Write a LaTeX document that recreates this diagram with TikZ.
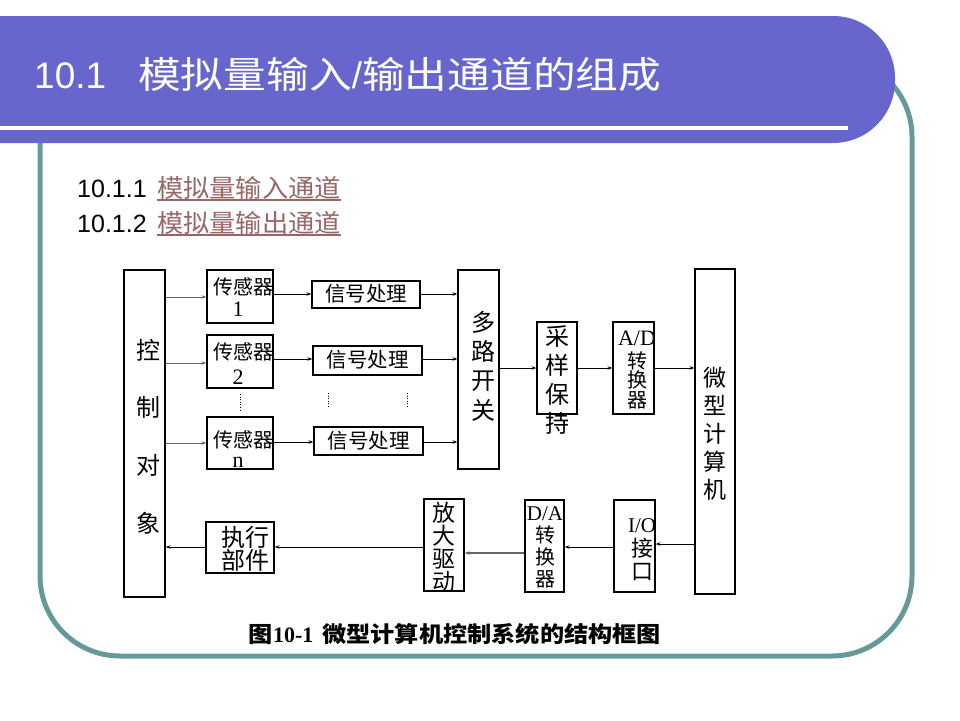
\documentclass[tikz,border=0pt]{standalone}
\usepackage{fontspec}
\usepackage{graphicx}
\usetikzlibrary{arrows.meta}
\setmainfont{Liberation Serif}
\newfontfamily\cjk{Noto Sans CJK SC}
\newfontfamily\lsans{Liberation Sans}
\newfontfamily\lserif{Liberation Serif}
\definecolor{bandc}{RGB}{102,102,204}
\definecolor{framec}{RGB}{102,153,153}
\definecolor{linkc}{RGB}{153,102,102}
\newcommand{\fs}[1]{\fontsize{#1}{#1}\selectfont}
\begin{document}
\begin{tikzpicture}[x=1pt,y=-1pt,
  box/.style={draw=black,line width=1.2pt,inner sep=0pt},
  lbl/.style={inner sep=0pt,align=center},
  vt/.style 2 args={lbl,font={\cjk\fontsize{#1}{#2}\selectfont}},
  arr/.style={line width=0.9pt,-{Stealth[length=5pt,width=3.5pt]}},
  garr/.style={arr,draw=black!60,line width=1pt},
  dots/.style={line width=1pt,dash pattern=on 1pt off 1.6pt}]
\useasboundingbox (0,0) rectangle (960,720);
\fill[white] (0,0) rectangle (960,720);
% frame
\draw[framec,line width=5pt,rounded corners=80pt] (40,57) rectangle (912,656);
% header band
\fill[bandc,rounded corners=62pt] (-120,16) rectangle (895,143);
\fill[white] (-10,126) rectangle (848,130);
\node[lbl,anchor=base west,text=white] (title) at (34,88)
  {\fs{37}\lsans 10.1\hspace{32pt}\scalebox{1.155}[1]{\cjk 模拟量输入}/\scalebox{1.155}[1]{\cjk 输出通道的组成}};
% sub headings
\node[lbl,anchor=base west] (sub1n) at (77,197) {\fs{25}\lsans 10.1.1};
\node[lbl,anchor=base west,text=linkc] (sub1c) at (157,197) {\fs{25}\scalebox{1.05}[1]{\cjk 模拟量输入通道}};
\node[lbl,anchor=base west] (sub2n) at (77,232) {\fs{25}\lsans 10.1.2};
\node[lbl,anchor=base west,text=linkc] (sub2c) at (157,232) {\fs{25}\scalebox{1.05}[1]{\cjk 模拟量输出通道}};
\draw[linkc,line width=1.2pt] ([yshift=-3pt]sub1c.base west) -- ([yshift=-3pt]sub1c.base east);
\draw[linkc,line width=1.2pt] ([yshift=-3pt]sub2c.base west) -- ([yshift=-3pt]sub2c.base east);
% boxes
\node[box,minimum width=41pt,minimum height=327pt] (ctrl) at (144.5,433.5) {};
\node[box,minimum width=66pt,minimum height=53pt] (s1) at (240,296.5) {};
\node[box,minimum width=66pt,minimum height=53pt] (s2) at (240,361.5) {};
\node[box,minimum width=66pt,minimum height=52pt] (sn) at (240,443) {};
\node[box,minimum width=108pt,minimum height=27pt] (p1) at (366,294.5) {};
\node[box,minimum width=109pt,minimum height=29pt] (p2) at (367.5,360.5) {};
\node[box,minimum width=109pt,minimum height=28pt] (p3) at (368.5,441) {};
\node[box,minimum width=41pt,minimum height=199pt] (mux) at (478.5,369.5) {};
\node[box,minimum width=40pt,minimum height=92pt] (sh) at (557,368) {};
\node[box,minimum width=41pt,minimum height=92pt] (ad) at (633.5,368) {};
\node[box,minimum width=40pt,minimum height=325pt] (mc) at (715,431.5) {};
\node[box,minimum width=68pt,minimum height=51pt] (act) at (240,547.5) {};
\node[box,minimum width=40pt,minimum height=92pt] (amp) at (444,545) {};
\node[box,minimum width=39pt,minimum height=92pt] (da) at (544.5,546) {};
\node[box,minimum width=41pt,minimum height=92pt] (io) at (634.5,546) {};
% labels
\node[vt={24}{57.7}] (tctrl) at (148,436.5) {控\\制\\对\\象};
\node[lbl] (ts1) at (243,287) {\fs{20}\cjk 传感器};
\node[lbl] (ts1b) at (238,309) {\fs{22}\lserif 1};
\node[lbl] (ts2) at (243,352) {\fs{20}\cjk 传感器};
\node[lbl] (ts2b) at (238,377) {\fs{22}\lserif 2};
\node[lbl] (tsn) at (243,440) {\fs{20}\cjk 传感器};
\node[lbl] (tsnb) at (238,462) {\fs{22}\lserif n};
\node[lbl] (tp1) at (366,294) {\fs{20.5}\cjk 信号处理};
\node[lbl] (tp2) at (367.5,360) {\fs{20.5}\cjk 信号处理};
\node[lbl] (tp3) at (368.5,441) {\fs{20.5}\cjk 信号处理};
\node[vt={24}{29.3}] (tmux) at (483,366) {多\\路\\开\\关};
\node[vt={24}{28.7}] (tsh) at (557,380) {采\\样\\保\\持};
\node[lbl] (tad) at (637,338) {\fs{22}\lserif A/D};
\node[vt={20}{19.5}] (tad2) at (637,380) {转\\换\\器};
\node[vt={23}{28}] (tmc) at (715,434) {微\\型\\计\\算\\机};
\node[vt={24}{23}] (tact) at (245,548.5) {执行\\部件};
\node[vt={23}{23}] (tamp) at (444,547.5) {放\\大\\驱\\动};
\node[lbl] (tda) at (545,514) {\fs{21}\lserif D/A};
\node[vt={20}{22}] (tda2) at (545,557) {转\\换\\器};
\node[lbl] (tio) at (642,526) {\fs{21}\lserif I/O};
\node[vt={22}{23}] (tio2) at (642,559.5) {接\\口};
% row levels
\coordinate (y1) at (0,297);
\coordinate (y2) at (0,363);
\coordinate (y3) at (0,443);
\coordinate (z1) at (0,294);
\coordinate (z2) at (0,359);
\coordinate (z3) at (0,442);
\coordinate (ym) at (0,368);
\coordinate (b1) at (0,544);
\coordinate (b2) at (0,547);
\coordinate (b3) at (0,553);
% arrows
\draw[garr] (ctrl.east |- y1) -- (s1.west |- y1);
\draw[garr] (ctrl.east |- y2) -- (s2.west |- y2);
\draw[garr] (ctrl.east |- y3) -- (sn.west |- y3);
\draw[arr] (s1.east |- z1) -- (p1.west |- z1);
\draw[arr] (s2.east |- z2) -- (p2.west |- z2);
\draw[arr] (sn.east |- z3) -- (p3.west |- z3);
\draw[arr] (p1.east |- z1) -- (mux.west |- z1);
\draw[arr] (p2.east |- z2) -- (mux.west |- z2);
\draw[arr] (p3.east |- z3) -- (mux.west |- z3);
\draw[arr] (mux.east |- ym) -- (sh.west |- ym);
\draw[arr] (sh.east |- ym) -- (ad.west |- ym);
\draw[arr] (ad.east |- ym) -- (mc.west |- ym);
\draw[arr] (mc.west |- b1) -- (io.east |- b1);
\draw[arr] (io.west |- b2) -- (da.east |- b2);
\draw[garr,line width=2pt] (da.west |- b3) -- (amp.east |- b3);
\draw[arr] (amp.west |- b2) -- (act.east |- b2);
\draw[arr] (act.west |- b2) -- (ctrl.east |- b2);
% dots
\coordinate (d1a) at (240,394); \coordinate (d1b) at (240,410);
\coordinate (d2a) at (328,393); \coordinate (d2b) at (328,408);
\coordinate (d3a) at (407,393); \coordinate (d3b) at (407,408);
\draw[dots] (d1a) -- (d1b);
\draw[dots] (d2a) -- (d2b);
\draw[dots] (d3a) -- (d3b);
% caption
\node[lbl] (cap) at (455,634) {\fs{22}\bfseries\scalebox{1.1}[1]{\cjk 图}{\lserif 10-1}\hspace{9pt}\scalebox{1.1}[1]{\cjk 微型计算机控制系统的结构框图}};
\end{tikzpicture}
\end{document}
